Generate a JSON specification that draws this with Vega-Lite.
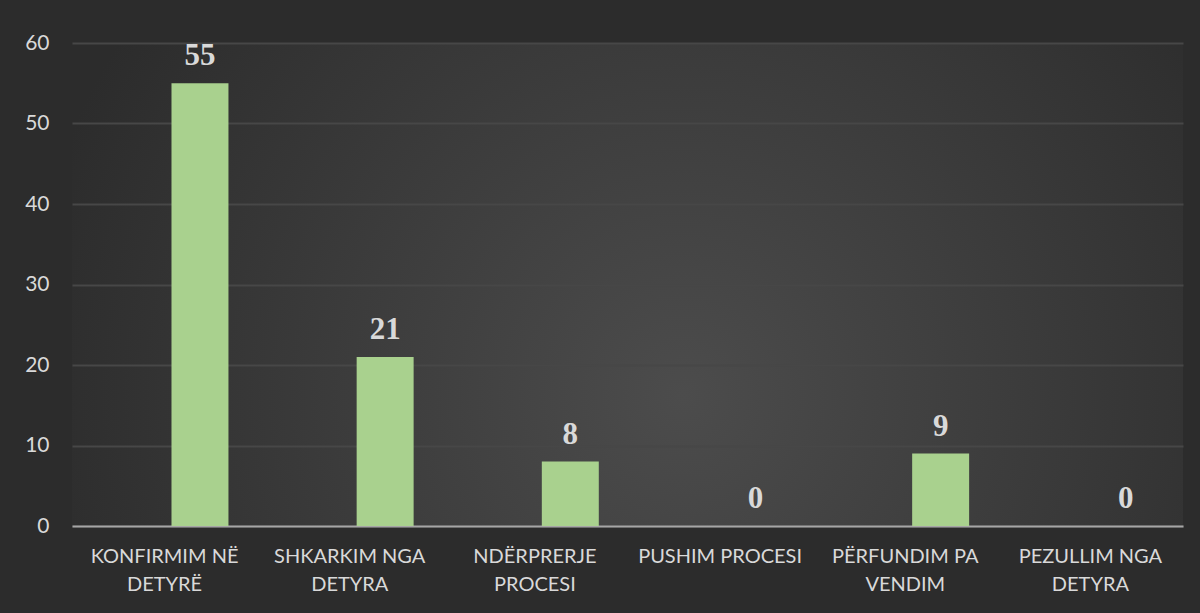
{
  "$schema": "https://vega.github.io/schema/vega-lite/v6.json",
  "width": 1111,
  "height": 483,
  "autosize": {"type": "none"},
  "padding": {"left": 72, "top": 43, "right": 17, "bottom": 87},
  "background": "#2c2c2c",
  "data": {
    "values": [
      {"category": "KONFIRMIM NË DETYRË", "count": 55},
      {"category": "SHKARKIM NGA DETYRA", "count": 21},
      {"category": "NDËRPRERJE PROCESI", "count": 8},
      {"category": "PUSHIM PROCESI", "count": 0},
      {"category": "PËRFUNDIM PA VENDIM", "count": 9},
      {"category": "PEZULLIM NGA DETYRA", "count": 0}
    ]
  },
  "encoding": {
    "x": {
      "field": "category",
      "type": "nominal",
      "sort": null,
      "scale": {"paddingInner": 0.31, "paddingOuter": 0.155},
      "axis": {
        "title": null,
        "labelAngle": 0,
        "ticks": false,
        "domainColor": "#a6a6a6",
        "domainWidth": 2,
        "labelColor": "#d9d9d9",
        "labelFont": "Lato",
        "labelFontSize": 20,
        "labelPadding": 20,
        "labelBaseline": "top",
        "labelLineHeight": 28,
        "labelLimit": 300,
        "labelExpr": "datum.value == 'KONFIRMIM NË DETYRË' ? ['KONFIRMIM NË', 'DETYRË'] : datum.value == 'SHKARKIM NGA DETYRA' ? ['SHKARKIM NGA', 'DETYRA'] : datum.value == 'NDËRPRERJE PROCESI' ? ['NDËRPRERJE', 'PROCESI'] : datum.value == 'PËRFUNDIM PA VENDIM' ? ['PËRFUNDIM PA', 'VENDIM'] : datum.value == 'PEZULLIM NGA DETYRA' ? ['PEZULLIM NGA', 'DETYRA'] : datum.value"
      }
    },
    "xOffset": {
      "datum": "series2",
      "scale": {"domain": ["series1", "series2"], "paddingInner": 0.195, "paddingOuter": 0}
    },
    "y": {
      "field": "count",
      "type": "quantitative",
      "scale": {"domain": [0, 60]},
      "axis": {
        "title": null,
        "values": [0, 10, 20, 30, 40, 50, 60],
        "domain": false,
        "ticks": false,
        "grid": true,
        "gridColor": "#474747",
        "gridWidth": 2,
        "labelColor": "#d9d9d9",
        "labelFont": "Lato",
        "labelFontSize": 21,
        "labelPadding": 23
      }
    }
  },
  "layer": [
    {
      "mark": {"type": "bar", "color": "#a9d18e"}
    },
    {
      "mark": {
        "type": "text",
        "baseline": "alphabetic",
        "dy": -18,
        "font": "Liberation Serif",
        "fontWeight": "bold",
        "fontSize": 31,
        "color": "#d9d9d9"
      },
      "encoding": {"text": {"field": "count", "type": "quantitative"}}
    }
  ],
  "config": {
    "view": {
      "stroke": null,
      "fill": {
        "gradient": "radial",
        "x1": 0.55, "y1": 0.6, "r1": 0,
        "x2": 0.55, "y2": 0.6, "r2": 0.6,
        "stops": [
          {"offset": 0, "color": "#4c4c4c"},
          {"offset": 1, "color": "#2c2c2c"}
        ]
      }
    }
  }
}
